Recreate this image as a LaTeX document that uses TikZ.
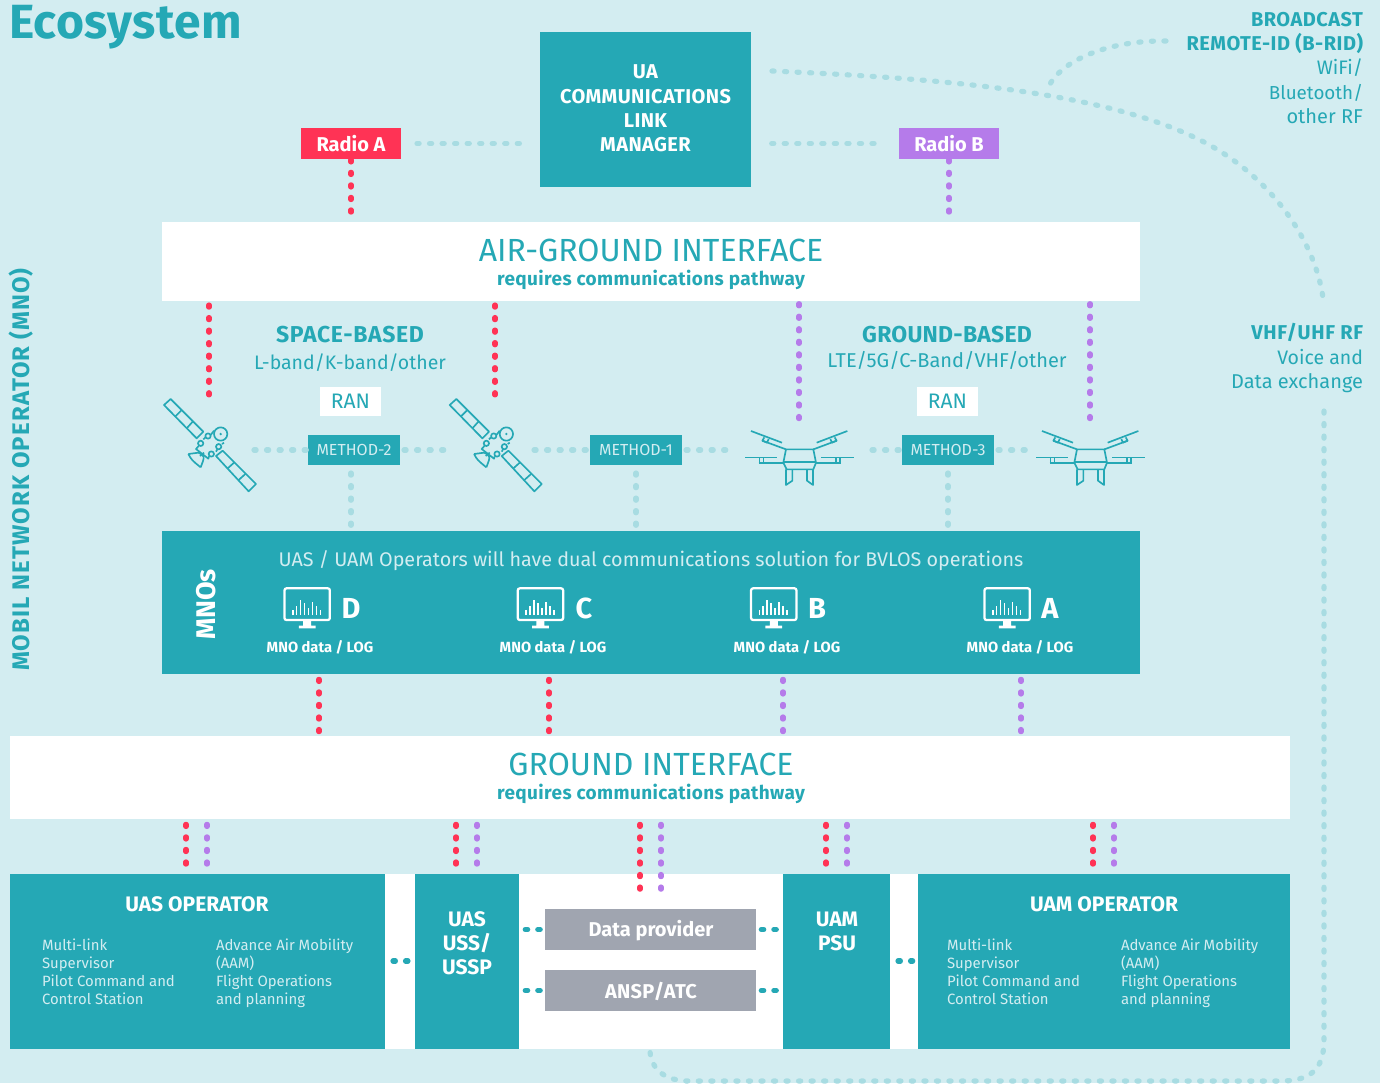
\documentclass[tikz,border=0pt]{standalone}
\usepackage{fontspec}
\setmainfont{Fira Sans}
\usetikzlibrary{calc}
\definecolor{bgc}{HTML}{D3EDF1}
\definecolor{teal1}{HTML}{25A8B5}
\definecolor{lightd}{HTML}{A8DCE2}
\definecolor{redd}{HTML}{FF3355}
\definecolor{purp}{HTML}{B57BEA}
\definecolor{greyb}{HTML}{A0A5B0}
\newcommand{\px}[1]{\fontsize{\fpeval{#1*0.75}}{\fpeval{#1*0.75*1.2}}\selectfont}
\newcommand{\pxl}[2]{\fontsize{\fpeval{#1*0.75}}{\fpeval{#2*0.75}}\selectfont}
\newcommand{\ls}[1]{\addfontfeature{LetterSpace=#1}}
\tikzset{
 box/.style={rectangle,inner sep=0pt,outer sep=0pt,anchor=north west,align=center},
 txt/.style={inner sep=0pt,outer sep=0pt,align=center},
 dotbase/.style={line cap=round,line width=3.9pt,dash pattern=on 1.6pt off 7.8pt},
 dotred/.style={dotbase,draw=redd},
 dotpurple/.style={dotbase,draw=purp},
 dotlight/.style={dotbase,draw=lightd},
 dotteal/.style={dotbase,draw=teal1},
 icon/.style={draw=teal1,line width=1.25pt,line join=round,fill=none},
 pics/sat/.style={code={
  \begin{scope}[x=0.25pt,y=-0.25pt,icon]
   \draw (72,75)--(92,57)--(190,155)--(170,175)--cycle;
   \draw (105,110)--(125,90) (140,145)--(158,125);
   \draw (228,228)--(248,212)--(348,312)--(326,334)--cycle;
   \draw (262,266)--(282,248) (296,300)--(316,282);
   \draw (242,162) circle (20);
   \fill[teal1,draw=none] (242,162) circle (4);
   \draw (182,190) circle (8) (204,168) circle (8) (236,200) circle (8) (214,222) circle (8);
   \draw (190,178)--(196,172) (212,165)--(222,152) (246,192)--(252,188) (228,215)--(232,208);
   \draw (176,198)--(168,207)--(205,236)--(207,229);
   \draw (145,222)--(175,218) (145,222) .. controls (155,240) .. (182,262) (175,218)..controls (195,228) ..(182,262);
   \draw (180,228)--(192,218);
  \end{scope}}},
 pics/drone/.style={code={
  \begin{scope}[x=0.25pt,y=-0.25pt,icon]
   \draw (93,63)--(186,98) (382,63)--(290,98);
   \draw (133,82)--(127,92)--(141,98)--(146,87) (344,82)--(350,92)--(336,98)--(331,87);
   \draw (127,92)--(198,118) (350,92)--(280,118);
   \draw (198,118)--(280,118)--(288,158)--(280,178)--(200,178)--(190,158)--cycle;
   \draw (190,155)--(288,155);
   \draw (75,142)--(172,142) (304,142)--(403,142);
   \draw (118,142)--(118,158) (130,142)--(130,158) (348,142)--(348,158) (360,142)--(360,158);
   \draw (116,158)--(190,158) (288,158)--(362,158);
   \draw (198,178)--(198,225)--(217,212)--(217,180) (279,178)--(279,225)--(261,212)--(261,180);
  \end{scope}}},
 pics/monitor/.style={code={
  \begin{scope}[x=0.25pt,y=-0.25pt]
   \draw[white,line width=1.7pt,rounded corners=1.5pt] (72,40) rectangle (208,135);
   \fill[white] (128,135) rectangle (152,152) (115,152) rectangle (165,160);
   \foreach \a/\b in {97/104,108/92,120/74,132/84,144/100,156/80,168/92,180/106}
     \draw[white,line width=1.35pt] (\a,120)--(\a,\b);
  \end{scope}}},
}
\begin{document}
\begin{tikzpicture}[x=0.75pt,y=-0.75pt]
\useasboundingbox (0,0) rectangle (1380,1083);
\fill[bgc] (0,0) rectangle (1380,1083);

% ---- boxes
\node[box,fill=teal1,minimum width=158.25pt,minimum height=116.25pt] (ua) at (540,32) {};
\node[txt,text=white,font=\bfseries\pxl{20}{24.3}\ls{2}] (uat) at (645.5,108.5) {UA\\COMMUNICATIONS\\LINK\\MANAGER};
\node[box,fill=redd,minimum width=75pt,minimum height=23.25pt,text=white] (rada) at (301,128) {\bfseries\px{20}Radio A};
\node[box,fill=purp,minimum width=75pt,minimum height=23.25pt,text=white] (radb) at (899,128) {\bfseries\px{20}Radio B};
\node[box,fill=white,minimum width=733.5pt,minimum height=59.25pt] (air) at (162,222) {};
\node[txt,text=teal1] (airt) at (651,250) {\px{32}AIR-GROUND INTERFACE};
\node[txt,text=teal1] (airs) at (651,280) {\bfseries\px{19}\ls{2}requires communications pathway};

\node[box,fill=white,text=teal1,minimum width=45.75pt,minimum height=21.75pt] (rana) at (320,387) {\px{21}RAN};
\node[box,fill=white,text=teal1,minimum width=45.75pt,minimum height=21.75pt] (ranb) at (917,387) {\px{21}RAN};
\node[box,fill=teal1,text=bgc,minimum width=69pt,minimum height=22.5pt] (m2) at (308,435) {\px{16}METHOD-2};
\node[box,fill=teal1,text=bgc,minimum width=69pt,minimum height=22.5pt] (m1) at (590,435) {\px{16}METHOD-1};
\node[box,fill=teal1,text=bgc,minimum width=69pt,minimum height=22.5pt] (m3) at (902,435) {\px{16}METHOD-3};

\node[box,fill=teal1,minimum width=733.5pt,minimum height=107.25pt] (mno) at (162,531) {};
\node[box,fill=white,minimum width=960pt,minimum height=62.25pt] (gi) at (10,736) {};
\node[txt,text=teal1] (git) at (651,764) {\px{32}GROUND INTERFACE};
\node[txt,text=teal1] (gis) at (651,794) {\bfseries\px{19}\ls{2}requires communications pathway};

\node[box,fill=white,minimum width=960pt,minimum height=131.25pt] (band) at (10,874) {};
\node[box,fill=teal1,minimum width=281.25pt,minimum height=131.25pt] (uas) at (10,874) {};
\node[box,fill=teal1,minimum width=78pt,minimum height=131.25pt] (uss) at (415,874) {};
\node[box,fill=teal1,minimum width=80.25pt,minimum height=131.25pt] (psu) at (783,874) {};
\node[box,fill=teal1,minimum width=279pt,minimum height=131.25pt] (uam) at (918,874) {};
\node[box,fill=greyb,minimum width=158.25pt,minimum height=30.75pt] (dp) at (545,909) {};
\node[box,fill=greyb,minimum width=158.25pt,minimum height=30.75pt] (ansp) at (545,970) {};
\node[txt,text=white] (dpt) at (651,931) {\bfseries\px{20}Data provider};
\node[txt,text=white] (anspt) at (651,991) {\bfseries\px{20}\ls{1.5}ANSP/ATC};

% ---- free-end coordinates
\coordinate (curveA) at (772,71);
\coordinate (curveB) at (1323,298);
\coordinate (brA) at (1166,41);
\coordinate (brB) at (1048,88);
\coordinate (vhfA) at (1324,411);
\coordinate (botA) at (650,1052);

% ---- dotted connectors
\draw[dotred,shorten <=0.6pt,shorten >=5pt] (rada.south) -- (rada.south |- air.north);
\draw[dotpurple,shorten <=0.6pt,shorten >=5pt] (radb.south) -- (radb.south |- air.north);
\draw[dotlight] ([xshift=12pt]rada.east) -- ([xshift=-12pt]ua.west |- rada.east);
\draw[dotlight] ([xshift=15.5pt]ua.east |- radb.west) -- ([xshift=-13pt]radb.west);

\coordinate (s1) at (209,398);\coordinate (s2) at (495,398);
\coordinate (d1) at (799,423);\coordinate (d2) at (1090,423);
\draw[dotred,shorten <=3pt,shorten >=2pt] (air.south -| s1) -- (s1);
\draw[dotred,shorten <=3pt,shorten >=2pt] (air.south -| s2) -- (s2);
\draw[dotpurple,shorten <=2pt,shorten >=2pt] (air.south -| d1) -- (d1);
\draw[dotpurple,shorten <=2pt,shorten >=2pt] (air.south -| d2) -- (d2);

\coordinate (h1) at (254,450);\coordinate (h2) at (448,450);\coordinate (h3) at (534,450);
\coordinate (h4) at (730,450);\coordinate (h5) at (872,450);\coordinate (h6) at (1028,450);
\draw[dotlight] (h1) -- (m2.west);
\draw[dotlight,shorten <=3pt] (m2.east) -- (h2);
\draw[dotlight] (h3) -- (m1.west);
\draw[dotlight,shorten <=3pt] (m1.east) -- (h4);
\draw[dotlight] (h5) -- (m3.west);
\draw[dotlight,shorten <=3pt] (m3.east) -- (h6);
\coordinate (v1) at (351,465);\coordinate (v2) at (636,465);\coordinate (v3) at (948,465);
\draw[dotlight,shorten <=6pt] (v1) -- (v1 |- mno.north);
\draw[dotlight,shorten <=6pt] (v2) -- (v2 |- mno.north);
\draw[dotlight,shorten <=6pt] (v3) -- (v3 |- mno.north);

\foreach \n/\x/\s in {a/319/dotred,b/549/dotred,c/783/dotpurple,d/1021/dotpurple}{
  \coordinate (mm\n) at (\x,700);
  \draw[\s,shorten <=4pt,shorten >=2pt] (mno.south -| mm\n) -- (gi.north -| mm\n);
}
\foreach \n/\x/\s in {a/186/dotred,b/207/dotpurple,c/456/dotred,d/477/dotpurple,g/826/dotred,h/847/dotpurple,i/1093/dotred,j/1114/dotpurple}{
  \coordinate (gg\n) at (\x,850);
  \draw[\s,shorten <=4pt,shorten >=6pt] (gi.south -| gg\n) -- (band.north -| gg\n);
}
\coordinate (ge) at (640,893);\coordinate (gf) at (661,893);
\draw[dotred,shorten <=4pt] (gi.south -| ge) -- (ge);
\draw[dotpurple,shorten <=4pt] (gi.south -| gf) -- (gf);

\begin{scope}[dotteal,dash pattern=on 1.8pt off 7.6pt]
\draw ([xshift=4.7pt]uss.east |- dp.west) -- ([xshift=-3.5pt]dp.west);
\draw ([xshift=4.7pt]uss.east |- ansp.west) -- ([xshift=-3.5pt]ansp.west);
\draw ([xshift=4pt]dp.east) -- ([xshift=-3pt]psu.west |- dp.east);
\draw ([xshift=4pt]ansp.east) -- ([xshift=-3pt]psu.west |- ansp.east);
\coordinate (lp) at (393,961);\coordinate (rp) at (898,961);
\draw (lp) -- ([xshift=-4pt]uss.west |- lp);
\draw (rp) -- ([xshift=-4pt]uam.west |- rp);
\end{scope}

\draw[dotlight] (curveA) .. controls (930,78) and (1100,90) .. (1200,140) .. controls (1270,175) and (1315,240) .. (curveB);
\draw[dotlight] (brA) .. controls (1110,40) and (1060,60) .. (brB);
\draw[dotlight] (vhfA) -- (1324,1040) .. controls (1324,1070) and (1310,1081) .. (1280,1081) -- (690,1081) .. controls (665,1081) and (652,1070) .. (botA);

% ---- icons
\pic at (140,380) {sat};
\pic at (425.7,380) {sat};
\pic at (720,410) {drone};
\pic at (1011,410) {drone};
\pic at (260.5,575) {monitor};
\pic at (493.8,575) {monitor};
\pic at (727.1,575) {monitor};
\pic at (960.5,575) {monitor};

% ---- text
\node[txt,anchor=base west,text=teal1] (eco) at (9,38) {\bfseries\px{48}\ls{1}Ecosystem};
\node[txt,anchor=base east,text=teal1] (bro) at (1363,26) {\bfseries\px{20}\ls{2.5}BROADCAST};
\node[txt,anchor=base east,text=teal1] (rem) at (1363,50) {\bfseries\px{20}\ls{2.5}REMOTE-ID (B-RID)};
\node[txt,anchor=base east,text=teal1] (wif) at (1363,74) {\px{19.5}WiFi/};
\node[txt,anchor=base east,text=teal1] (blu) at (1363,99) {\px{18.8}Bluetooth/};
\node[txt,anchor=base east,text=teal1] (oth) at (1363,123) {\px{20}other RF};
\node[txt,anchor=base east,text=teal1] (vhf) at (1363,339) {\bfseries\px{20}\ls{3}VHF/UHF RF};
\node[txt,anchor=base east,text=teal1] (voi) at (1363,364) {\px{19.5}Voice and};
\node[txt,anchor=base east,text=teal1] (dat) at (1363,388) {\px{20}Data exchange};
\node[txt,rotate=90,text=teal1] (mob) at (21,469.5) {\bfseries\px{24}\ls{4.5}MOBIL NETWORK OPERATOR (MNO)};
\node[txt,text=teal1] (sb) at (350,335) {\bfseries\px{23}\ls{3}SPACE-BASED};
\node[txt,text=teal1] (sb2) at (350,363) {\px{19.5}L-band/K-band/other};
\node[txt,text=teal1] (gb) at (947,335) {\bfseries\px{23}\ls{1}GROUND-BASED};
\node[txt,text=teal1] (gb2) at (947,360) {\px{20}LTE/5G/C-Band/VHF/other};
\node[txt,text=bgc] (mnt) at (651,561) {\px{19.75}UAS / UAM Operators will have dual communications solution for BVLOS operations};
\node[txt,rotate=90,text=white] (mnl) at (206,604.5) {\bfseries\px{27}MNOs};
\foreach \n/\l/\x in {d/D/351,c/C/584,b/B/817,a/A/1050}{
  \node[txt,text=white] (l\n) at (\x,608) {\bfseries\px{29}\l};
}
\foreach \n/\x in {d/320,c/553,b/787,a/1020}{
  \node[txt,text=white] (t\n) at (\x,647) {\bfseries\px{14.7}MNO data / LOG};
}
\node[txt,text=white] (uast) at (197,904) {\bfseries\px{21}UAS OPERATOR};
\node[txt,text=white] (uamt) at (1104,904) {\bfseries\px{21}UAM OPERATOR};
\tikzset{bodyt/.style={txt,anchor=north west,align=left,text=bgc,font=\pxl{14.9}{18}}}
\node[bodyt] (u1) at (42,939) {Multi-link\\Supervisor\\Pilot Command and\\Control Station};
\node[bodyt] (u2) at (216,939) {Advance Air Mobility\\(AAM)\\Flight Operations\\and planning};
\node[bodyt] (u3) at (947,939) {Multi-link\\Supervisor\\Pilot Command and\\Control Station};
\node[bodyt] (u4) at (1121,939) {Advance Air Mobility\\(AAM)\\Flight Operations\\and planning};
\node[txt,text=white,font=\bfseries\pxl{21}{24}] (usst) at (467,943) {UAS\\USS/\\USSP};
\node[txt,text=white,font=\bfseries\pxl{21}{24}] (psut) at (837,931) {UAM\\PSU};
\end{tikzpicture}
\end{document}
